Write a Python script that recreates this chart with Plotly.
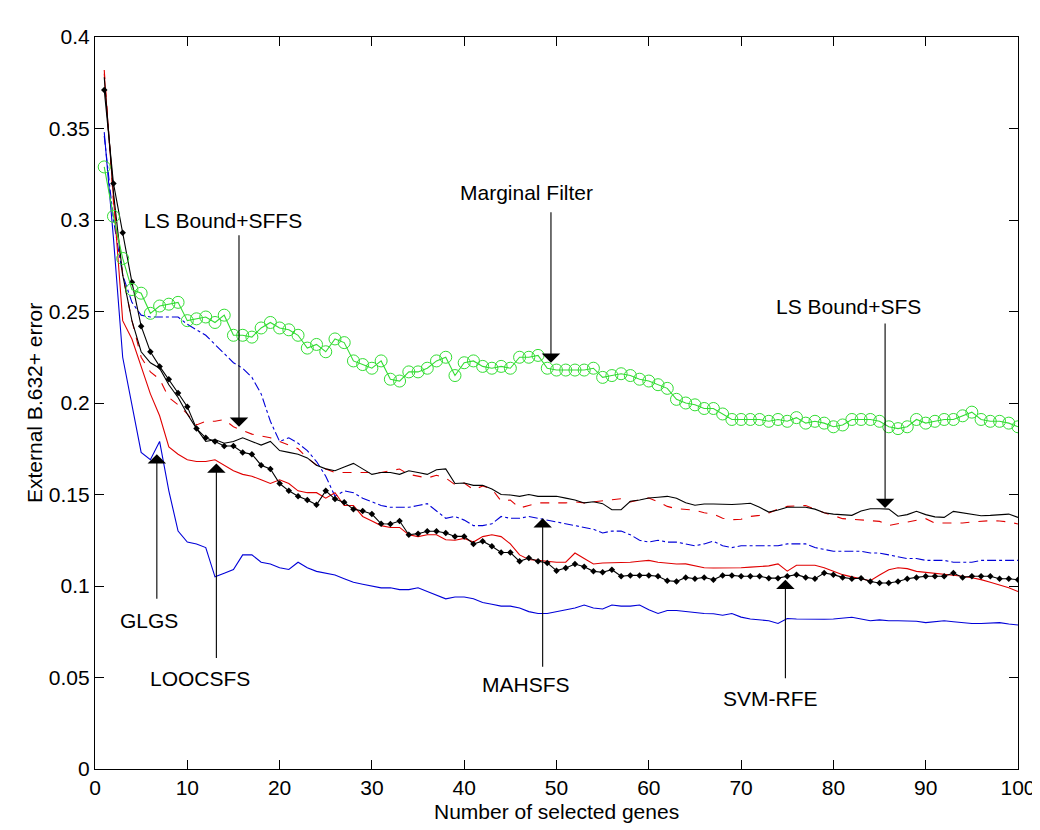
import plotly.graph_objects as go

genes = list(range(1, 101))

marginal_filter = [0.329, 0.302, 0.279, 0.262, 0.260, 0.249, 0.253, 0.254, 0.255, 0.245,
                   0.246, 0.247, 0.244, 0.248, 0.237, 0.237, 0.236, 0.241, 0.244, 0.241,
                   0.240, 0.237, 0.230, 0.232, 0.228, 0.235, 0.233, 0.223, 0.221, 0.219,
                   0.223, 0.213, 0.212, 0.217, 0.217, 0.219, 0.223, 0.225, 0.215, 0.222,
                   0.223, 0.220, 0.219, 0.220, 0.219, 0.225, 0.225, 0.226, 0.219, 0.218,
                   0.218, 0.218, 0.218, 0.219, 0.214, 0.215, 0.216, 0.215, 0.213, 0.212,
                   0.210, 0.208, 0.202, 0.200, 0.199, 0.197, 0.197, 0.194, 0.191, 0.191,
                   0.191, 0.191, 0.190, 0.191, 0.190, 0.192, 0.189, 0.190, 0.189, 0.187,
                   0.188, 0.191, 0.191, 0.191, 0.190, 0.187, 0.186, 0.187, 0.191, 0.189,
                   0.190, 0.191, 0.191, 0.193, 0.195, 0.191, 0.190, 0.190, 0.189, 0.187]

glgs = [0.348, 0.290, 0.225, 0.200, 0.173, 0.169, 0.179, 0.152, 0.130, 0.124,
        0.123, 0.121, 0.105, 0.107, 0.109, 0.117, 0.117, 0.113, 0.112, 0.110,
        0.109, 0.113, 0.110, 0.108, 0.107, 0.106, 0.104, 0.102, 0.101, 0.100,
        0.099, 0.099, 0.098, 0.098, 0.099, 0.097, 0.095, 0.093, 0.094, 0.094,
        0.093, 0.091, 0.090, 0.089, 0.089, 0.088, 0.086, 0.085, 0.085, 0.086,
        0.087, 0.088, 0.0896, 0.088, 0.0874, 0.0896, 0.089, 0.089, 0.0896, 0.087,
        0.085, 0.0866, 0.0866, 0.086, 0.0855, 0.085, 0.0848, 0.084, 0.085, 0.083,
        0.082, 0.0815, 0.081, 0.0795, 0.0822, 0.082, 0.0818, 0.0816, 0.0818, 0.082,
        0.0825, 0.0829, 0.082, 0.081, 0.0815, 0.081, 0.081, 0.0808, 0.0807, 0.080,
        0.0805, 0.081, 0.0805, 0.080, 0.0795, 0.0795, 0.0798, 0.080, 0.0792, 0.0787]

ls_bound_sfs_dashdot = [0.346, 0.300, 0.270, 0.255, 0.248, 0.247, 0.247, 0.247, 0.247, 0.243,
                        0.240, 0.237, 0.232, 0.227, 0.222, 0.219, 0.214, 0.205, 0.190, 0.179,
                        0.181, 0.178, 0.174, 0.168, 0.160, 0.149, 0.152, 0.151, 0.148, 0.146,
                        0.144, 0.143, 0.143, 0.143, 0.144, 0.145, 0.141, 0.137, 0.138, 0.136,
                        0.133, 0.133, 0.134, 0.138, 0.137, 0.137, 0.138, 0.137, 0.136, 0.135,
                        0.134, 0.133, 0.132, 0.131, 0.129, 0.130, 0.130, 0.128, 0.125, 0.124,
                        0.125, 0.124, 0.124, 0.123, 0.122, 0.123, 0.1245, 0.122, 0.121, 0.122,
                        0.122, 0.122, 0.122, 0.122, 0.123, 0.123, 0.123, 0.121, 0.120, 0.119,
                        0.119, 0.119, 0.119, 0.118, 0.118, 0.117, 0.116, 0.115, 0.115, 0.114,
                        0.114, 0.114, 0.113, 0.113, 0.113, 0.114, 0.114, 0.114, 0.114, 0.114]

loocsfs = [0.380, 0.310, 0.245, 0.235, 0.220, 0.205, 0.193, 0.176, 0.172, 0.169,
           0.168, 0.168, 0.169, 0.166, 0.163, 0.161, 0.160, 0.158, 0.156, 0.158,
           0.156, 0.152, 0.151, 0.151, 0.148, 0.151, 0.144, 0.144, 0.138, 0.1355,
           0.133, 0.132, 0.132, 0.128, 0.127, 0.128, 0.128, 0.1253, 0.125, 0.126,
           0.124, 0.127, 0.128, 0.127, 0.123, 0.117, 0.1145, 0.114, 0.1135, 0.113,
           0.113, 0.118, 0.115, 0.112, 0.1126, 0.1126, 0.1126, 0.113, 0.1135, 0.114,
           0.113, 0.1126, 0.112, 0.1121, 0.111, 0.110, 0.1098, 0.1098, 0.1098, 0.110,
           0.1103, 0.1107, 0.111, 0.1121, 0.1081, 0.1113, 0.1113, 0.1113, 0.110, 0.108,
           0.1062, 0.105, 0.104, 0.1029, 0.106, 0.1089, 0.110, 0.1095, 0.108, 0.1075,
           0.107, 0.1062, 0.106, 0.1053, 0.1045, 0.1035, 0.102, 0.1007, 0.099, 0.097]

ls_bound_sffs = [0.382, 0.310, 0.270, 0.245, 0.225, 0.217, 0.213, 0.203, 0.199, 0.194,
                 0.188, 0.190, 0.190, 0.191, 0.187, 0.185, 0.183, 0.182, 0.181, 0.179,
                 0.177, 0.175, 0.170, 0.166, 0.164, 0.162, 0.162, 0.162, 0.162, 0.1617,
                 0.162, 0.163, 0.1639, 0.161, 0.160, 0.159, 0.1605, 0.159, 0.1554, 0.1563,
                 0.1526, 0.1546, 0.153, 0.1464, 0.147, 0.1426, 0.144, 0.1454, 0.1454, 0.1454,
                 0.1454, 0.146, 0.1454, 0.146, 0.1465, 0.1472, 0.1477, 0.146, 0.147, 0.1481,
                 0.146, 0.1435, 0.1422, 0.142, 0.1415, 0.140, 0.1393, 0.137, 0.1362, 0.1365,
                 0.138, 0.1386, 0.1399, 0.142, 0.1435, 0.1438, 0.144, 0.142, 0.140, 0.1385,
                 0.1368, 0.1365, 0.1362, 0.136, 0.1353, 0.1331, 0.134, 0.1348, 0.136, 0.1368,
                 0.1344, 0.1344, 0.1344, 0.1344, 0.135, 0.1355, 0.1357, 0.1355, 0.135, 0.1339]

ls_bound_sfs = [0.378, 0.315, 0.270, 0.245, 0.228, 0.222, 0.219, 0.210, 0.203, 0.194,
                0.186, 0.179, 0.180, 0.178, 0.179, 0.181, 0.179, 0.177, 0.179, 0.174,
                0.173, 0.172, 0.170, 0.166, 0.164, 0.163, 0.165, 0.167, 0.164, 0.161,
                0.162, 0.162, 0.161, 0.163, 0.162, 0.161, 0.1635, 0.164, 0.156, 0.1563,
                0.155, 0.155, 0.153, 0.150, 0.1497, 0.149, 0.150, 0.149, 0.149, 0.149,
                0.148, 0.147, 0.1454, 0.146, 0.145, 0.1417, 0.1417, 0.1463, 0.147, 0.1481,
                0.1485, 0.149, 0.148, 0.1455, 0.1441, 0.1448, 0.1448, 0.1445, 0.1445, 0.1448,
                0.1452, 0.143, 0.1404, 0.1415, 0.143, 0.143, 0.143, 0.142, 0.140, 0.1393,
                0.139, 0.1386, 0.141, 0.1422, 0.1422, 0.142, 0.1381, 0.139, 0.1408, 0.139,
                0.1378, 0.1375, 0.1408, 0.140, 0.139, 0.1384, 0.1386, 0.139, 0.1393, 0.1375]

svm_rfe = [0.371, 0.320, 0.293, 0.266, 0.242, 0.228, 0.220, 0.213, 0.2055, 0.198,
           0.186, 0.181, 0.179, 0.1765, 0.1765, 0.173, 0.172, 0.166, 0.164, 0.156,
           0.152, 0.149, 0.147, 0.1444, 0.152, 0.1475, 0.1457, 0.142, 0.141, 0.1393,
           0.134, 0.1339, 0.1355, 0.128, 0.1286, 0.1299, 0.1299, 0.129, 0.1271, 0.1271,
           0.123, 0.1245, 0.1217, 0.1183, 0.1183, 0.1135, 0.1153, 0.1135, 0.1126, 0.1084,
           0.1098, 0.112, 0.1105, 0.108, 0.1075, 0.1089, 0.1053, 0.1058, 0.1058, 0.1058,
           0.1053, 0.1029, 0.1025, 0.1047, 0.104, 0.1047, 0.1034, 0.1058, 0.1058, 0.1053,
           0.1053, 0.1053, 0.1043, 0.1043, 0.1053, 0.1062, 0.1047, 0.104, 0.1071, 0.1062,
           0.1047, 0.104, 0.1043, 0.1025, 0.1016, 0.1016, 0.1025, 0.104, 0.1047, 0.1053,
           0.1053, 0.1053, 0.1071, 0.1047, 0.1053, 0.1053, 0.1053, 0.104, 0.104, 0.1034]

x_ticks = [0, 10, 20, 30, 40, 50, 60, 70, 80, 90, 100]
y_ticks = [0, 0.05, 0.1, 0.15, 0.2, 0.25, 0.3, 0.35, 0.4]
y_tick_text = ["0", "0.05", "0.1", "0.15", "0.2", "0.25", "0.3", "0.35", "0.4"]

# label, text x, text y, arrow x, arrow tip y, tail offset (px)
labels = ["LS Bound+SFFS", "Marginal Filter", "LS Bound+SFS", "GLGS", "LOOCSFS", "MAHSFS", "SVM-RFE"]
label_x = [13.9, 46.7, 81.6, 5.9, 11.4, 46.7, 73.2]
label_y = [0.300, 0.315, 0.253, 0.0814, 0.0497, 0.046, 0.0388]
arrow_x = [15.6, 49.4, 85.6, 6.7, 13.15, 48.5, 74.8]
arrow_tip = [0.187, 0.222, 0.1426, 0.172, 0.167, 0.137, 0.1034]
arrow_tail = [-193, -152, -186, 146, 196, 150, 100]

FONT = "Liberation Sans, Arial, Helvetica, sans-serif"

fig = go.Figure()

fig.add_trace(go.Scatter(x=genes, y=glgs, mode="lines",
                         line=dict(color="#0000D8", width=1.1), name="GLGS"))
fig.add_trace(go.Scatter(x=genes, y=ls_bound_sfs_dashdot, mode="lines",
                         line=dict(color="#0000D8", width=1.1, dash="dashdot"), name="dash-dot"))
fig.add_trace(go.Scatter(x=genes, y=loocsfs, mode="lines",
                         line=dict(color="#E00000", width=1.1), name="LOOCSFS"))
fig.add_trace(go.Scatter(x=genes, y=ls_bound_sffs, mode="lines",
                         line=dict(color="#E00000", width=1.1, dash="dash"), name="LS Bound+SFFS"))
fig.add_trace(go.Scatter(x=genes, y=ls_bound_sfs, mode="lines",
                         line=dict(color="black", width=1.1), name="LS Bound+SFS"))
fig.add_trace(go.Scatter(x=genes, y=svm_rfe, mode="lines+markers",
                         line=dict(color="black", width=1.1),
                         marker=dict(symbol="diamond", size=5, color="black"), name="SVM-RFE"))
fig.add_trace(go.Scatter(x=genes, y=marginal_filter, mode="lines+markers",
                         line=dict(color="#33DD33", width=1.1),
                         marker=dict(symbol="circle-open", size=12, color="#33DD33",
                                     line=dict(width=1)), name="Marginal Filter"))

annotations = []
for lab, tx, ty, axx, tip, tail in zip(labels, label_x, label_y, arrow_x, arrow_tip, arrow_tail):
    annotations.append(dict(x=tx, y=ty, xref="x", yref="y", text=lab, showarrow=False,
                            font=dict(family=FONT, size=21, color="black"),
                            xanchor="center", yanchor="middle"))
    annotations.append(dict(x=axx, y=tip, xref="x", yref="y", text="", showarrow=True,
                            ax=0, ay=tail, arrowhead=1, arrowsize=2.8, arrowwidth=1.1,
                            arrowcolor="black", standoff=0))

annotations.append(dict(x=0.5, y=0, xref="paper", yref="paper", text="Number of selected genes",
                        showarrow=False, yshift=-42, yanchor="middle", xanchor="center",
                        font=dict(family=FONT, size=21, color="black")))
annotations.append(dict(x=0, y=0.5, xref="paper", yref="paper", text="External B.632+ error",
                        showarrow=False, xshift=-61, textangle=-90, xanchor="center",
                        yanchor="middle", font=dict(family=FONT, size=21, color="black")))

fig.update_layout(
    width=1040, height=830,
    margin=dict(l=87, r=23, t=29, b=69),
    paper_bgcolor="white", plot_bgcolor="white",
    showlegend=False,
    font=dict(family=FONT, size=21, color="black"),
    annotations=annotations,
)
fig.update_xaxes(range=[0, 100], tickvals=x_ticks, ticks="inside", ticklen=9,
                 tickcolor="black", showline=True, linecolor="black", linewidth=1.2,
                 mirror="ticks", showgrid=False, zeroline=False,
                 tickfont=dict(family=FONT, size=21, color="black"))
fig.update_yaxes(range=[0, 0.4], tickvals=y_ticks, ticktext=y_tick_text, ticks="inside",
                 ticklen=9, tickcolor="black", showline=True, linecolor="black",
                 linewidth=1.2, mirror="ticks", showgrid=False, zeroline=False,
                 tickfont=dict(family=FONT, size=21, color="black"))

fig.write_html("out.html")
